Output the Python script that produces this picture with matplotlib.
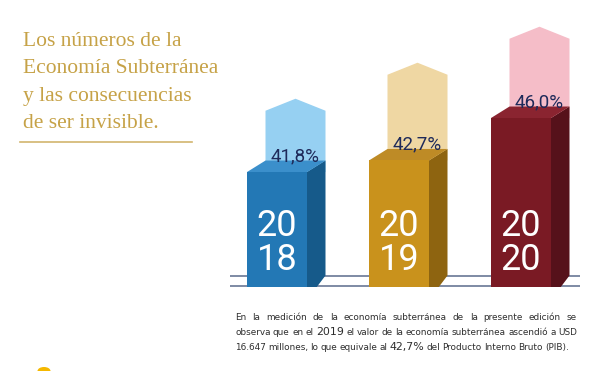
import matplotlib
matplotlib.use("Agg")
import matplotlib.pyplot as plt
from matplotlib.patches import Polygon, Ellipse
import numpy as np

# ---- data ----
years = ["2018", "2019", "2020"]
shares = [41.8, 42.7, 46.0]              # % del PIB
share_labels = ["41,8%", "42,7%", "46,0%"]
ghost_tops = [47.5, 50.3, 53.1]          # decorative arrow tops

title_lines = ["Los números de la", "Economía Subterránea",
               "y las consecuencias", "de ser invisible."]

# ---- style ----
front_c = ["#2378B5", "#C9921C", "#7A1A24"]
side_c = ["#165A8A", "#8E6410", "#56111A"]
top_c = ["#3B8FCB", "#BE8B26", "#8A2430"]
ghost_c = ["#96D0F2", "#EFD7A3", "#F5BDC8"]
label_c = "#1E2A5A"
gold = "#C6A247"

W, H = 600, 371
fig = plt.figure(figsize=(W / 100, H / 100), dpi=100)
fig.patch.set_facecolor("white")

# overlay axes in pixel coordinates
fa = fig.add_axes([0, 0, 1, 1])
fa.set_xlim(0, W)
fa.set_ylim(H, 0)
fa.axis("off")

# bar axes
px_l, px_r, px_b, px_t = 230, 580, 287, 20
ax = fig.add_axes([px_l / W, 1 - px_b / H, (px_r - px_l) / W, (px_b - px_t) / H])
ax.axis("off")
spacing_px = 122
x0_units = (277 - px_l) / spacing_px
ax.set_xlim(-x0_units, -x0_units + (px_r - px_l) / spacing_px)
y0 = 32.86
ppu = 12.86  # pixels per unit
ax.set_ylim(y0, y0 + (px_b - px_t) / ppu)

x = np.arange(len(years))
w = 60 / spacing_px
dx = 18.5 / spacing_px
dy = 11.5 / ppu
shoulder = 12 / ppu

# floor lines
ax.axhline(y0 + dy, color="#5B6B8C", lw=1.1, zorder=0)
ax.axhline(y0 + 0.04, color="#5B6B8C", lw=1.1, zorder=0)

for i, v in enumerate(shares):
    xc = x[i]
    xl, xr = xc - w / 2, xc + w / 2
    gt = ghost_tops[i]
    # ghost arrow
    ax.add_patch(Polygon([(xl + dx, v), (xl + dx, gt - shoulder), (xc + dx, gt),
                          (xr + dx, gt - shoulder), (xr + dx, v)],
                         closed=True, facecolor=ghost_c[i], edgecolor="none", zorder=1))
    # side face
    ax.add_patch(Polygon([(xr, y0 - 1), (xr + dx, y0 + dy), (xr + dx, v + dy), (xr, v)],
                         closed=True, facecolor=side_c[i], edgecolor="none", zorder=2))
    # top face
    ax.add_patch(Polygon([(xl, v), (xr, v), (xr + dx, v + dy), (xl + dx, v + dy)],
                         closed=True, facecolor=top_c[i], edgecolor="none", zorder=2))
    # label
    ax.text(xc + dx, v + dy - 0.05, share_labels[i], ha="center", va="baseline",
            color=label_c, fontsize=13.5, family="Roboto", zorder=5)

ax.bar(x, shares, width=w, color=front_c, zorder=3)

# year text inside bars
for i, yr in enumerate(years):
    ax.text(x[i], y0 + (287 - 226) / ppu, yr[:2], ha="center", va="center",
            color="white", fontsize=26, family="Roboto", zorder=6)
    ax.text(x[i], y0 + (287 - 260) / ppu, yr[2:], ha="center", va="center",
            color="white", fontsize=26, family="Roboto", zorder=6)

# ---- title ----
for k, line in enumerate(title_lines):
    fa.text(23, 46 + k * 27.3, line, ha="left", va="baseline", color=gold,
            fontsize=15.5, family="Liberation Serif")
fa.plot([20, 192], [142, 142], color="#D2B56E", lw=1.2)

# ---- paragraph ----
base = 6.4
big = 7.9
para = [
    ([(t, base) for t in "En la medición de la economía subterránea de la presente edición se".split()], True),
    ([(t, base) for t in "observa que en el".split()] + [("2019", big)] +
     [(t, base) for t in "el valor de la economía subterránea ascendió a USD".split()], True),
    ([(t, base) for t in "16.647 millones, lo que equivale al".split()] + [("42,7%", big)] +
     [(t, base) for t in "del Producto Interno Bruto (PIB).".split()], False),
]
baselines = [319.5, 335, 350]
left, right = 235, 577
fig.canvas.draw()
renderer = fig.canvas.get_renderer()
for (tokens, justify), yb in zip(para, baselines):
    objs = [fa.text(0, yb, t, fontsize=s, family="DejaVu Sans", color="#2E2E2E",
                    ha="left", va="baseline") for t, s in tokens]
    widths = [o.get_window_extent(renderer).width for o in objs]
    if justify:
        gap = (right - left - sum(widths)) / (len(widths) - 1)
    else:
        gap = 2.2
    xpos = left
    for o, wd in zip(objs, widths):
        o.set_x(xpos)
        xpos += wd + gap

# small yellow mark bottom-left
fa.add_patch(Ellipse((44, 371), 13, 8, facecolor="#F5B800", edgecolor="none"))

fig.savefig("out.png", dpi=100, facecolor="white")
